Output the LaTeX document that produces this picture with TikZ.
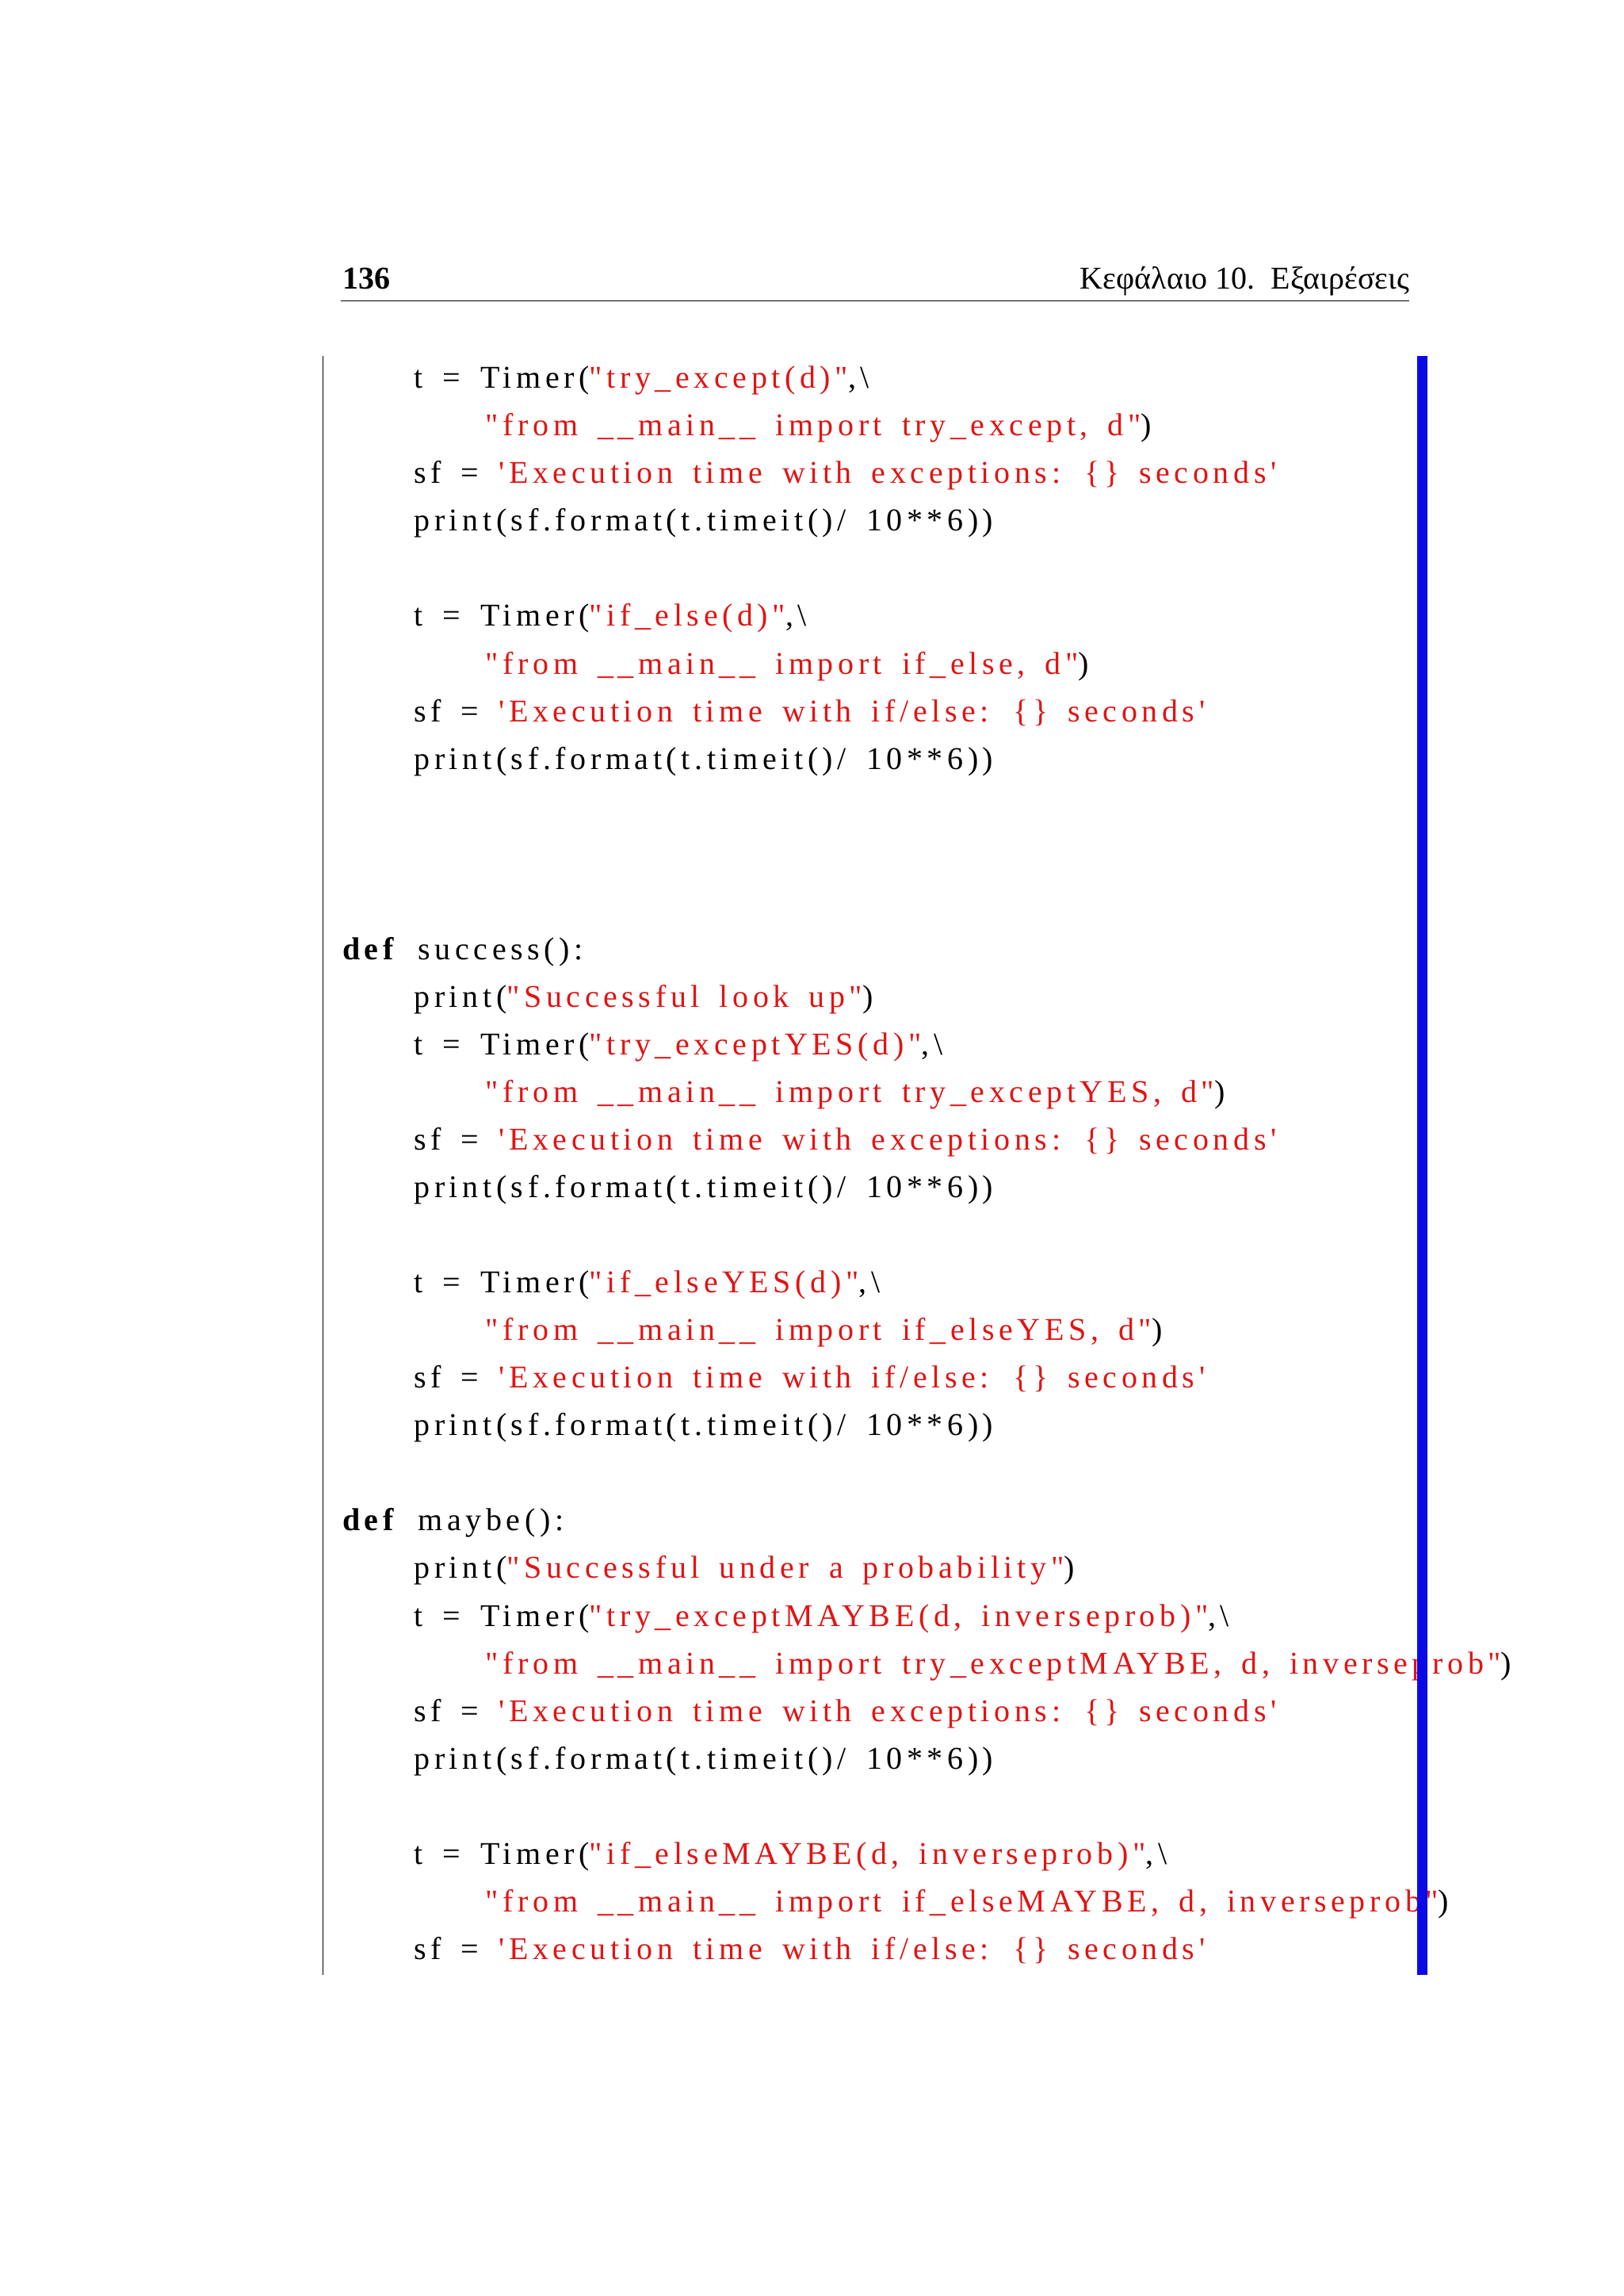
\documentclass[tikz,border=0pt]{standalone}
\usepackage{fontspec}
\setmainfont{Liberation Serif}
\newfontfamily\codefont[LetterSpace=14,WordSpace=1.6]{Liberation Serif}
\definecolor{strred}{RGB}{225,20,20}
\definecolor{barblue}{RGB}{10,10,230}
\newcommand{\rs}[1]{\textcolor{strred}{#1}}
\begin{document}
\begin{tikzpicture}[x=1.862pt,y=-1.862pt,
  codeline/.style={anchor=base west,inner sep=0pt,font=\codefont\fontsize{40}{40}\selectfont}]
\useasboundingbox (0,0) rectangle (1100,1555.3);
\fill[white] (0,0) rectangle (1100,1555.3);
\newcommand{\cl}[4]{\node[codeline] (#1) at ({232+48.5*#3},{263+32.25*#2}) {#4};}
% header
\node[anchor=base west,inner sep=0pt,font=\bfseries\fontsize{40}{40}\selectfont] (pg) at (232,196) {136};
\node[anchor=base east,inner sep=0pt,font=\fontsize{40}{40}\selectfont] (hd) at (955,196) {Κεφάλαιο 10.\ \ Εξαιρέσεις};
\draw[line width=1pt] (231,204) -- (955,204);
\draw[line width=1pt] (219,241) -- (219,1338);
% code
\cl{l0}{0}{1}{t = Timer(\rs{"try\_except(d)"},\textbackslash}
\cl{l1}{1}{2}{\rs{"from \_\_main\_\_ import try\_except, d"})}
\cl{l2}{2}{1}{sf = \rs{'Execution time with exceptions: \{\} seconds'}}
\cl{l3}{3}{1}{print(sf.format(t.timeit()/ 10**6))}
\cl{l5}{5}{1}{t = Timer(\rs{"if\_else(d)"},\textbackslash}
\cl{l6}{6}{2}{\rs{"from \_\_main\_\_ import if\_else, d"})}
\cl{l7}{7}{1}{sf = \rs{'Execution time with if/else: \{\} seconds'}}
\cl{l8}{8}{1}{print(sf.format(t.timeit()/ 10**6))}
\cl{l12}{12}{0}{\textbf{def} success():}
\cl{l13}{13}{1}{print(\rs{"Successful look up"})}
\cl{l14}{14}{1}{t = Timer(\rs{"try\_exceptYES(d)"},\textbackslash}
\cl{l15}{15}{2}{\rs{"from \_\_main\_\_ import try\_exceptYES, d"})}
\cl{l16}{16}{1}{sf = \rs{'Execution time with exceptions: \{\} seconds'}}
\cl{l17}{17}{1}{print(sf.format(t.timeit()/ 10**6))}
\cl{l19}{19}{1}{t = Timer(\rs{"if\_elseYES(d)"},\textbackslash}
\cl{l20}{20}{2}{\rs{"from \_\_main\_\_ import if\_elseYES, d"})}
\cl{l21}{21}{1}{sf = \rs{'Execution time with if/else: \{\} seconds'}}
\cl{l22}{22}{1}{print(sf.format(t.timeit()/ 10**6))}
\cl{l24}{24}{0}{\textbf{def} maybe():}
\cl{l25}{25}{1}{print(\rs{"Successful under a probability"})}
\cl{l26}{26}{1}{t = Timer(\rs{"try\_exceptMAYBE(d, inverseprob)"},\textbackslash}
\cl{l27}{27}{2}{\rs{"from \_\_main\_\_ import try\_exceptMAYBE, d, inverseprob"})}
\cl{l28}{28}{1}{sf = \rs{'Execution time with exceptions: \{\} seconds'}}
\cl{l29}{29}{1}{print(sf.format(t.timeit()/ 10**6))}
\cl{l31}{31}{1}{t = Timer(\rs{"if\_elseMAYBE(d, inverseprob)"},\textbackslash}
\cl{l32}{32}{2}{\rs{"from \_\_main\_\_ import if\_elseMAYBE, d, inverseprob"})}
\cl{l33}{33}{1}{sf = \rs{'Execution time with if/else: \{\} seconds'}}
% bar
\fill[barblue] (960,241) rectangle (967,1338);
\end{tikzpicture}
\end{document}
